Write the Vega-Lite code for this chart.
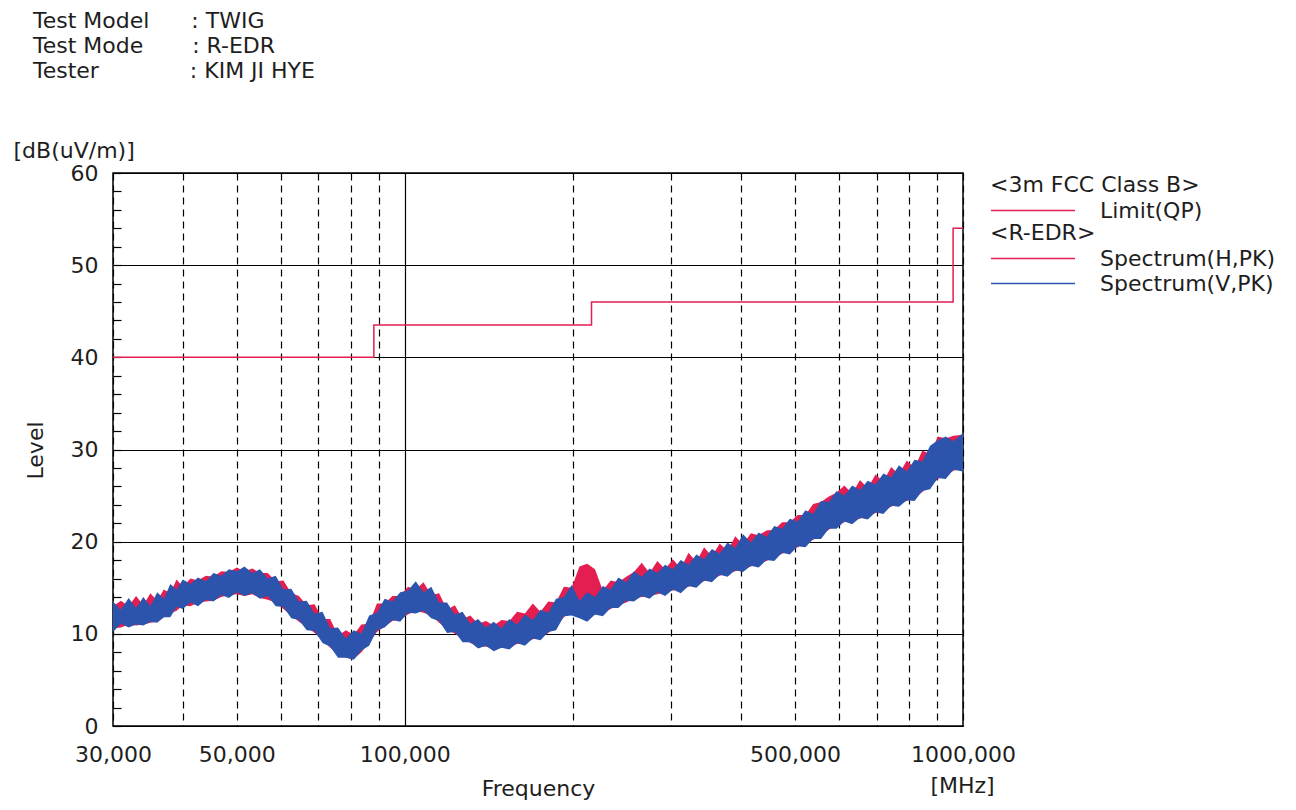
{
  "$schema": "https://vega.github.io/schema/vega-lite/v6.json",
  "width": 850,
  "height": 553,
  "autosize": {"type": "none"},
  "padding": {"left": 113, "top": 173, "right": 333, "bottom": 84},
  "background": "white",
  "config": {
    "font": "DejaVu Sans",
    "view": {"stroke": "#000", "strokeWidth": 1.5},
    "axis": {"labelFont": "DejaVu Sans", "titleFont": "DejaVu Sans", "labelFontSize": 22, "titleFontSize": 22, "labelColor": "#1e1e1e", "titleColor": "#1e1e1e", "titleFontWeight": "normal"},
    "legend": {"labelFont": "DejaVu Sans", "titleFont": "DejaVu Sans", "labelFontSize": 22, "titleFontSize": 22, "titleFontWeight": "normal", "labelColor": "#1e1e1e", "titleColor": "#1e1e1e", "labelLimit": 400, "titleLimit": 400, "padding": 0}
  },
  "title": {
    "text": ["Test Model\u00a0\u00a0\u00a0\u00a0\u00a0\u00a0: TWIG", "Test Mode\u00a0\u00a0\u00a0\u00a0\u00a0\u00a0\u00a0: R-EDR", "Tester\u00a0\u00a0\u00a0\u00a0\u00a0\u00a0\u00a0\u00a0\u00a0\u00a0\u00a0\u00a0\u00a0: KIM JI HYE"],
    "anchor": "start",
    "frame": "group",
    "dx": -80,
    "offset": 56,
    "font": "DejaVu Sans",
    "fontSize": 22,
    "fontWeight": "normal",
    "lineHeight": 25,
    "color": "#1e1e1e"
  },
  "datasets": {
    "lim": [
      {"f": 30, "lim": 40},
      {"f": 88, "lim": 43.5},
      {"f": 216, "lim": 46},
      {"f": 960, "lim": 54},
      {"f": 1000, "lim": 54}
    ],
    "spec": [
      {"f": 30, "vl": 10.2, "vh": 13.5, "hl": 10.6, "hh": 13.0},
      {"f": 31, "vl": 11.1, "vh": 12.6, "hl": 10.7, "hh": 13.6},
      {"f": 32, "vl": 10.7, "vh": 13.9, "hl": 11.0, "hh": 13.0},
      {"f": 33, "vl": 11.0, "vh": 12.8, "hl": 10.9, "hh": 14.1},
      {"f": 34, "vl": 10.9, "vh": 14.0, "hl": 11.0, "hh": 13.1},
      {"f": 35, "vl": 11.3, "vh": 13.0, "hl": 11.2, "hh": 14.4},
      {"f": 36, "vl": 11.2, "vh": 14.5, "hl": 11.3, "hh": 13.6},
      {"f": 37, "vl": 11.8, "vh": 13.8, "hl": 11.8, "hh": 14.8},
      {"f": 38, "vl": 11.8, "vh": 15.4, "hl": 12.2, "hh": 14.4},
      {"f": 39, "vl": 12.9, "vh": 14.8, "hl": 12.5, "hh": 15.9},
      {"f": 40, "vl": 12.7, "vh": 15.9, "hl": 13.1, "hh": 15.1},
      {"f": 41.3, "vl": 13.4, "vh": 15.4, "hl": 13.0, "hh": 16.0},
      {"f": 42.6, "vl": 13.0, "vh": 16.1, "hl": 13.4, "hh": 15.8},
      {"f": 44, "vl": 13.7, "vh": 15.7, "hl": 13.5, "hh": 16.3},
      {"f": 45.4, "vl": 13.5, "vh": 16.6, "hl": 13.6, "hh": 16.2},
      {"f": 46.9, "vl": 14.2, "vh": 16.3, "hl": 14.0, "hh": 16.8},
      {"f": 48.4, "vl": 13.9, "vh": 17.0, "hl": 14.2, "hh": 16.7},
      {"f": 50, "vl": 14.5, "vh": 16.8, "hl": 14.3, "hh": 17.2},
      {"f": 51.6, "vl": 14.1, "vh": 17.3, "hl": 14.1, "hh": 16.8},
      {"f": 53.3, "vl": 14.4, "vh": 16.6, "hl": 14.3, "hh": 17.1},
      {"f": 55, "vl": 13.8, "vh": 17.0, "hl": 13.9, "hh": 16.6},
      {"f": 56.8, "vl": 14.1, "vh": 16.0, "hl": 13.7, "hh": 16.6},
      {"f": 58.7, "vl": 13.0, "vh": 16.3, "hl": 13.4, "hh": 15.7},
      {"f": 60.6, "vl": 12.9, "vh": 14.8, "hl": 12.7, "hh": 15.8},
      {"f": 62.6, "vl": 11.7, "vh": 14.9, "hl": 12.0, "hh": 14.4},
      {"f": 64.6, "vl": 11.5, "vh": 13.5, "hl": 11.3, "hh": 14.1},
      {"f": 66.7, "vl": 10.4, "vh": 13.6, "hl": 10.8, "hh": 13.1},
      {"f": 68.9, "vl": 10.3, "vh": 12.2, "hl": 10.1, "hh": 13.2},
      {"f": 71.2, "vl": 9.0, "vh": 12.4, "hl": 9.4, "hh": 11.6},
      {"f": 73.5, "vl": 8.6, "vh": 10.6, "hl": 8.5, "hh": 11.6},
      {"f": 75.9, "vl": 7.4, "vh": 10.7, "hl": 7.8, "hh": 9.8},
      {"f": 78.4, "vl": 7.4, "vh": 9.5, "hl": 7.4, "hh": 10.4},
      {"f": 81, "vl": 7.2, "vh": 10.4, "hl": 7.3, "hh": 9.9},
      {"f": 83.6, "vl": 8.2, "vh": 10.0, "hl": 8.0, "hh": 11.0},
      {"f": 86.3, "vl": 8.7, "vh": 12.0, "hl": 9.1, "hh": 11.1},
      {"f": 89.1, "vl": 10.4, "vh": 12.3, "hl": 10.2, "hh": 13.3},
      {"f": 92, "vl": 10.7, "vh": 13.8, "hl": 10.8, "hh": 13.3},
      {"f": 95, "vl": 11.5, "vh": 13.5, "hl": 11.4, "hh": 14.1},
      {"f": 98.1, "vl": 11.3, "vh": 14.5, "hl": 11.6, "hh": 14.1},
      {"f": 101.3, "vl": 12.3, "vh": 14.7, "hl": 12.1, "hh": 15.1},
      {"f": 104.6, "vl": 12.2, "vh": 15.7, "hl": 12.5, "hh": 14.8},
      {"f": 108, "vl": 12.5, "vh": 14.5, "hl": 12.3, "hh": 15.6},
      {"f": 111.5, "vl": 11.7, "vh": 15.1, "hl": 12.0, "hh": 14.2},
      {"f": 115.2, "vl": 11.4, "vh": 13.4, "hl": 11.2, "hh": 14.4},
      {"f": 119, "vl": 10.1, "vh": 13.4, "hl": 10.5, "hh": 12.6},
      {"f": 122.9, "vl": 10.2, "vh": 12.1, "hl": 10.0, "hh": 13.1},
      {"f": 126.9, "vl": 9.1, "vh": 12.4, "hl": 9.5, "hh": 11.6},
      {"f": 131, "vl": 9.1, "vh": 11.1, "hl": 9.0, "hh": 12.0},
      {"f": 135.3, "vl": 8.4, "vh": 11.6, "hl": 8.7, "hh": 11.1},
      {"f": 139.7, "vl": 8.7, "vh": 10.7, "hl": 8.6, "hh": 11.4},
      {"f": 144.3, "vl": 8.1, "vh": 11.3, "hl": 8.4, "hh": 10.9},
      {"f": 149, "vl": 8.5, "vh": 10.6, "hl": 8.5, "hh": 11.5},
      {"f": 153.9, "vl": 8.3, "vh": 11.6, "hl": 8.6, "hh": 11.4},
      {"f": 158.9, "vl": 9.0, "vh": 11.0, "hl": 8.9, "hh": 12.4},
      {"f": 164.1, "vl": 8.7, "vh": 12.1, "hl": 9.0, "hh": 12.2},
      {"f": 169.5, "vl": 9.5, "vh": 11.5, "hl": 9.4, "hh": 13.3},
      {"f": 175, "vl": 9.3, "vh": 12.6, "hl": 9.6, "hh": 12.4},
      {"f": 180.7, "vl": 10.2, "vh": 12.3, "hl": 10.1, "hh": 13.5},
      {"f": 186.6, "vl": 10.4, "vh": 13.8, "hl": 10.8, "hh": 13.4},
      {"f": 192.7, "vl": 11.9, "vh": 14.0, "hl": 11.8, "hh": 15.1},
      {"f": 199, "vl": 12.0, "vh": 15.3, "hl": 12.4, "hh": 15.0},
      {"f": 205.5, "vl": 11.7, "vh": 13.6, "hl": 11.8, "hh": 17.3},
      {"f": 212.2, "vl": 11.3, "vh": 14.5, "hl": 12.0, "hh": 17.6},
      {"f": 219.1, "vl": 12.1, "vh": 14.0, "hl": 12.1, "hh": 17.0},
      {"f": 226.3, "vl": 11.9, "vh": 15.2, "hl": 12.3, "hh": 14.7},
      {"f": 233.7, "vl": 12.8, "vh": 14.8, "hl": 12.7, "hh": 15.8},
      {"f": 241.3, "vl": 12.8, "vh": 16.1, "hl": 13.1, "hh": 15.6},
      {"f": 249.2, "vl": 13.6, "vh": 15.6, "hl": 13.4, "hh": 16.2},
      {"f": 257.3, "vl": 13.5, "vh": 16.8, "hl": 13.8, "hh": 16.7},
      {"f": 265.7, "vl": 14.1, "vh": 16.2, "hl": 14.0, "hh": 17.7},
      {"f": 274.4, "vl": 13.8, "vh": 17.1, "hl": 14.1, "hh": 16.6},
      {"f": 283.4, "vl": 14.5, "vh": 16.6, "hl": 14.3, "hh": 17.9},
      {"f": 292.6, "vl": 14.1, "vh": 17.5, "hl": 14.5, "hh": 17.0},
      {"f": 302.2, "vl": 14.8, "vh": 17.0, "hl": 14.7, "hh": 18.1},
      {"f": 312.1, "vl": 14.4, "vh": 18.0, "hl": 14.8, "hh": 17.1},
      {"f": 322.3, "vl": 15.2, "vh": 17.5, "hl": 15.1, "hh": 18.8},
      {"f": 332.8, "vl": 15.0, "vh": 18.6, "hl": 15.4, "hh": 17.8},
      {"f": 343.7, "vl": 15.8, "vh": 18.1, "hl": 15.7, "hh": 19.4},
      {"f": 354.9, "vl": 15.6, "vh": 19.2, "hl": 16.0, "hh": 18.4},
      {"f": 366.5, "vl": 16.4, "vh": 18.7, "hl": 16.3, "hh": 19.8},
      {"f": 378.5, "vl": 16.2, "vh": 19.9, "hl": 16.6, "hh": 19.0},
      {"f": 390.8, "vl": 16.9, "vh": 19.3, "hl": 16.8, "hh": 20.6},
      {"f": 403.6, "vl": 16.7, "vh": 20.8, "hl": 17.0, "hh": 19.7},
      {"f": 416.8, "vl": 17.4, "vh": 19.9, "hl": 17.3, "hh": 20.9},
      {"f": 430.4, "vl": 17.2, "vh": 21.0, "hl": 17.6, "hh": 20.7},
      {"f": 444.5, "vl": 18.0, "vh": 20.5, "hl": 17.9, "hh": 21.2},
      {"f": 459, "vl": 17.9, "vh": 21.7, "hl": 18.3, "hh": 21.3},
      {"f": 474, "vl": 18.8, "vh": 21.4, "hl": 18.7, "hh": 22.1},
      {"f": 489.5, "vl": 18.6, "vh": 22.5, "hl": 19.0, "hh": 22.1},
      {"f": 505.5, "vl": 19.5, "vh": 22.2, "hl": 19.4, "hh": 22.9},
      {"f": 522, "vl": 19.4, "vh": 23.4, "hl": 19.8, "hh": 22.9},
      {"f": 539, "vl": 20.3, "vh": 23.0, "hl": 20.2, "hh": 24.1},
      {"f": 556.7, "vl": 20.3, "vh": 24.4, "hl": 20.7, "hh": 24.3},
      {"f": 574.8, "vl": 21.4, "vh": 24.3, "hl": 21.3, "hh": 24.9},
      {"f": 593.6, "vl": 21.4, "vh": 25.5, "hl": 21.8, "hh": 25.3},
      {"f": 613, "vl": 22.2, "vh": 25.0, "hl": 22.1, "hh": 26.1},
      {"f": 633, "vl": 21.9, "vh": 26.1, "hl": 22.3, "hh": 25.2},
      {"f": 653.7, "vl": 22.6, "vh": 25.6, "hl": 22.5, "hh": 26.7},
      {"f": 675.1, "vl": 22.4, "vh": 26.6, "hl": 22.8, "hh": 25.8},
      {"f": 697.1, "vl": 23.2, "vh": 26.2, "hl": 23.1, "hh": 27.3},
      {"f": 719.9, "vl": 23.0, "vh": 27.4, "hl": 23.4, "hh": 26.5},
      {"f": 743.5, "vl": 23.9, "vh": 27.0, "hl": 23.8, "hh": 28.1},
      {"f": 767.8, "vl": 23.8, "vh": 28.3, "hl": 24.2, "hh": 27.3},
      {"f": 792.8, "vl": 24.5, "vh": 27.6, "hl": 24.4, "hh": 28.8},
      {"f": 818.7, "vl": 24.4, "vh": 28.9, "hl": 24.8, "hh": 28.0},
      {"f": 845.5, "vl": 25.5, "vh": 28.7, "hl": 25.4, "hh": 29.9},
      {"f": 873.1, "vl": 25.7, "vh": 30.4, "hl": 26.1, "hh": 29.5},
      {"f": 901.6, "vl": 26.9, "vh": 31.0, "hl": 26.8, "hh": 31.4},
      {"f": 931.1, "vl": 26.8, "vh": 31.4, "hl": 27.2, "hh": 31.2},
      {"f": 961.5, "vl": 27.8, "vh": 30.9, "hl": 27.7, "hh": 31.5},
      {"f": 1000, "vl": 27.6, "vh": 31.8, "hl": 28.0, "hh": 31.6}
    ]
  },
  "layer": [
    {
      "data": {"name": "lim"},
      "mark": {"type": "line", "interpolate": "step-after", "strokeWidth": 1.5},
      "encoding": {
        "x": {
          "field": "f", "type": "quantitative",
          "scale": {"type": "log", "domain": [30, 1000], "nice": false},
          "axis": {
            "orient": "bottom",
            "values": [30, 40, 50, 60, 70, 80, 90, 100, 200, 300, 400, 500, 600, 700, 800, 900, 1000],
            "labelExpr": "indexof([30, 50, 100, 500, 1000], datum.value) >= 0 ? replace(format(datum.value, '.3f'), '.', ',') : ''",
            "labelOverlap": false, "labelFlush": false, "labelBound": false,
            "labelBaseline": "alphabetic", "labelPadding": 35,
            "ticks": false, "domain": false,
            "grid": true, "gridColor": "#000", "gridWidth": 1.2,
            "gridDash": {"condition": {"test": "datum.value == 100", "value": [1, 0]}, "value": [7, 5]},
            "title": "Frequency", "titleX": 425, "titleY": 69, "titleAlign": "center", "titleBaseline": "alphabetic"
          }
        },
        "y": {
          "field": "lim", "type": "quantitative",
          "scale": {"domain": [0, 60], "nice": false, "zero": false},
          "axis": {
            "orient": "left",
            "values": [0, 2, 4, 6, 8, 10, 12, 14, 16, 18, 20, 22, 24, 26, 28, 30, 32, 34, 36, 38, 40, 42, 44, 46, 48, 50, 52, 54, 56, 58, 60],
            "labelExpr": "datum.value % 10 == 0 ? datum.label : ''",
            "labelOverlap": false, "labelFlush": false, "labelBound": false,
            "labelPadding": 23,
            "ticks": true, "tickSize": -8, "tickColor": "#000", "tickWidth": 1.2,
            "domain": false,
            "grid": true, "gridColor": "#000", "gridWidth": 1.2,
            "gridOpacity": {"condition": {"test": "datum.value % 10 == 0", "value": 1}, "value": 0},
            "title": "[dB(uV/m)]", "titleAngle": 0, "titleAlign": "left", "titleBaseline": "middle", "titleX": -100, "titleY": -23
          }
        },
        "stroke": {
          "datum": "Limit(QP)",
          "scale": {"domain": ["Limit(QP)"], "range": ["#e41e50"]},
          "legend": {
            "orient": "none", "legendX": 877, "legendY": 2,
            "title": "<3m FCC Class B>", "titlePadding": 2,
            "symbolType": "M-1,0H7", "symbolSize": 441, "symbolStrokeWidth": 1.5,
            "labelOffset": 87, "rowPadding": 2
          }
        }
      }
    },
    {
      "data": {"name": "spec"},
      "mark": {"type": "area"},
      "encoding": {
        "x": {
          "field": "f", "type": "quantitative",
          "axis": {
            "orient": "top", "labels": false, "ticks": false, "domain": false, "grid": false,
            "title": "[MHz]", "titleX": 849, "titleY": 619, "titleAlign": "center", "titleBaseline": "alphabetic"
          }
        },
        "y": {
          "field": "hl", "type": "quantitative",
          "axis": {
            "orient": "right", "labels": false, "ticks": false, "domain": false, "grid": false,
            "title": "Level", "titleAngle": -90, "titleX": -928, "titleY": 277, "titleAlign": "center", "titleBaseline": "middle"
          }
        },
        "y2": {"field": "hh"},
        "color": {
          "datum": "Spectrum(H,PK)",
          "scale": {"domain": ["Spectrum(H,PK)", "Spectrum(V,PK)"], "range": ["#e41e50", "#2c54ad"]},
          "legend": {
            "orient": "none", "legendX": 877, "legendY": 50,
            "title": "<R-EDR>", "titlePadding": 2,
            "symbolType": "M-1,0H7", "symbolSize": 441, "symbolStrokeWidth": 1.5,
            "labelOffset": 87, "rowPadding": 2,
            "encode": {"symbols": {"update": {"stroke": {"scale": "color", "field": "value"}, "strokeWidth": {"value": 1.5}}}}
          }
        }
      }
    },
    {
      "data": {"name": "spec"},
      "mark": {"type": "area"},
      "encoding": {
        "x": {"field": "f", "type": "quantitative", "axis": null},
        "y": {"field": "vl", "type": "quantitative", "axis": null},
        "y2": {"field": "vh"},
        "color": {"datum": "Spectrum(V,PK)"}
      }
    }
  ],
  "resolve": {"axis": {"x": "independent", "y": "independent"}}
}
